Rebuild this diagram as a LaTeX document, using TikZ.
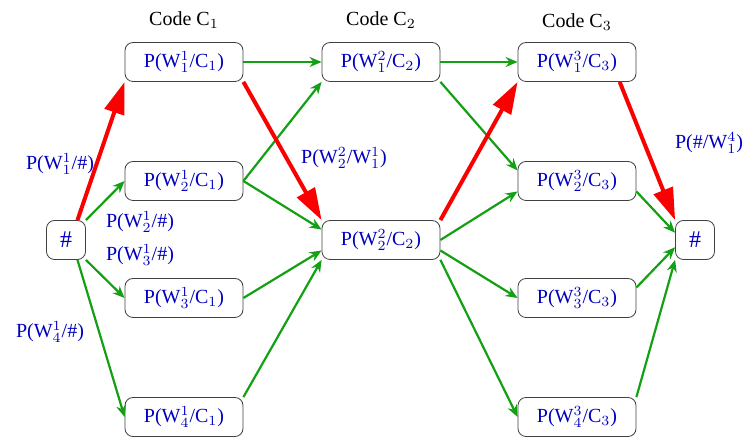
\documentclass[tikz,border=0pt]{standalone}
\usepackage{fontspec}
\setmainfont{Liberation Serif}
\usetikzlibrary{calc,shapes,arrows.meta}
\definecolor{wblue}{RGB}{0,0,190}
\definecolor{wgreen}{RGB}{20,160,20}
\definecolor{wred}{RGB}{250,0,0}
\newcommand{\Wsc}[2]{W$^{#1}_{#2}$}
\newcommand{\Csub}[1]{C$_{#1}$}

\begin{document}
\begin{tikzpicture}[x=0.5pt,y=-0.5pt,
        box/.style={draw=black!75,rounded corners=4pt,minimum width=59pt,
            minimum height=19.5pt,inner sep=0pt,text=wblue,line width=0.4pt},
        hashbox/.style={box,minimum width=19.5pt,font=\large},
        prob/.style={text=wblue,inner sep=0pt},
        go/.style={draw=wgreen,line width=1.1pt,-{Stealth[length=6pt,width=5pt]}},
        best/.style={draw=wred,line width=2pt,-{Triangle[length=16pt,width=10pt]}}]
        \useasboundingbox (0,0) rectangle (749,442);
        % code headings
        \node (h1) at (184,20) {Code \Csub{1}};
        \node (h2) at (381,20) {Code \Csub{2}};
        \node (h3) at (577,22) {Code \Csub{3}};
        % start and end
        \node[hashbox] (s) at (66,240) {\#};
        \node[hashbox] (e) at (695,240) {\#};
        % code C1
        \node[box] (a1) at (184,62) {P(\Wsc{1}{1}/\Csub{1})};
        \node[box] (a2) at (184,181) {P(\Wsc{1}{2}/\Csub{1})};
        \node[box] (a3) at (184,298) {P(\Wsc{1}{3}/\Csub{1})};
        \node[box] (a4) at (184,417) {P(\Wsc{1}{4}/\Csub{1})};
        % code C2
        \node[box] (b1) at (381,62) {P(\Wsc{2}{1}/\Csub{2})};
        \node[box] (b2) at (381,240) {P(\Wsc{2}{2}/\Csub{2})};
        % code C3
        \node[box] (c1) at (577,62) {P(\Wsc{3}{1}/\Csub{3})};
        \node[box] (c2) at (577,181) {P(\Wsc{3}{2}/\Csub{3})};
        \node[box] (c3) at (577,298) {P(\Wsc{3}{3}/\Csub{3})};
        \node[box] (c4) at (577,417) {P(\Wsc{3}{4}/\Csub{3})};
        % transition labels
        \node[prob] (p1) at (60,164) {P(\Wsc{1}{1}/\#)};
        \node[prob] (p2) at (140,222) {P(\Wsc{1}{2}/\#)};
        \node[prob] (p3) at (140,255) {P(\Wsc{1}{3}/\#)};
        \node[prob] (p4) at (50,332) {P(\Wsc{1}{4}/\#)};
        \node[prob] (p5) at (344,158) {P(\Wsc{2}{2}/\Wsc{1}{1})};
        \node[prob] (p6) at (709,143) {P(\#/\Wsc{4}{1})};
        % green transitions
        \draw[go] (s.north east) -- (a2.west);
        \draw[go] (s.south east) -- (a3.west);
        \draw[go] (s.-60) -- (a4.west);
        \draw[go] (a1.east) -- (b1.west);
        \draw[go] (a2.east) -- (b1.south west);
        \draw[go] (a2.east) -- (b2.170);
        \draw[go] (a3.east) -- (b2.190);
        \draw[go] (a4.north east) -- (b2.south west);
        \draw[go] (b1.east) -- (c1.west);
        \draw[go] (b1.south east) -- (c2.170);
        \draw[go] (b2.east) -- (c2.190);
        \draw[go] (b2.-10) -- (c3.west);
        \draw[go] (b2.south east) -- (c4.west);
        \draw[go] (c2.-10) -- (e.160);
        \draw[go] (c3.10) -- (e.200);
        \draw[go] (c4.north east) -- (e.south west);
        % best path
        \draw[best] (s.60) -- (a1.south west);
        \draw[best] (a1.south east) -- (b2.north west);
        \draw[best] (b2.north east) -- (c1.south west);
        \draw[best] (c1.-25) -- (e.north west);
\end{tikzpicture}
\end{document}
